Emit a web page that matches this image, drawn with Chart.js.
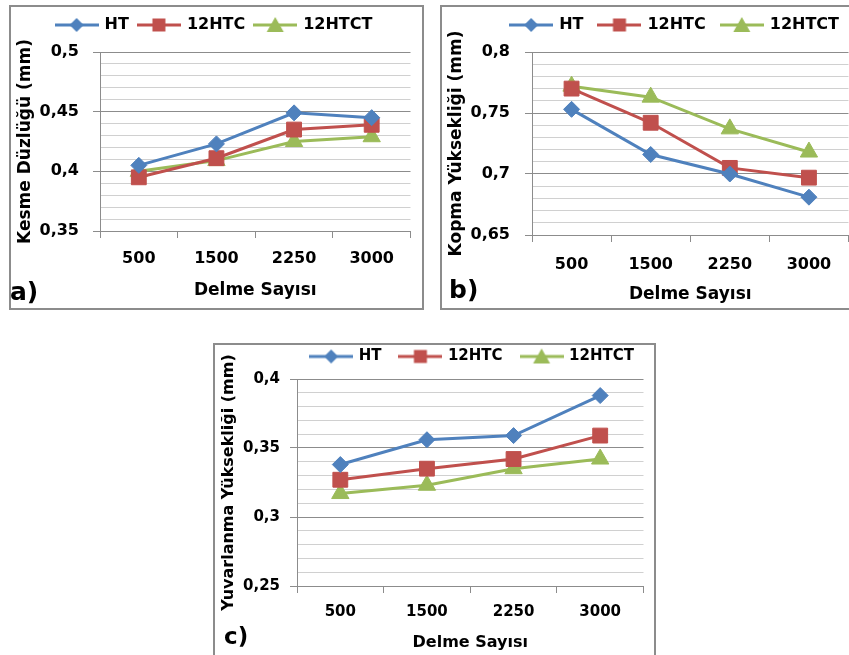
<!DOCTYPE html>
<html>
<head>
<meta charset="utf-8">
<script src="https://cdn.jsdelivr.net/npm/chart.js@4.4.1/dist/chart.umd.min.js"></script>
<style>
  html, body { margin: 0; padding: 0; width: 849px; height: 655px; overflow: hidden; background: #fff; }
  .frame { position: absolute; box-sizing: border-box; border: 2px solid #8c8c8c; }
  canvas { position: absolute; }
  .harf { position: absolute; font-family: 'DejaVu Sans', sans-serif; font-weight: bold; line-height: 1; color: #000; }
</style>
</head>
<body>
<div class="frame" style="left:9px;top:5px;width:415px;height:305px"></div>
<div class="frame" style="left:440px;top:5px;width:440px;height:305px"></div>
<div class="frame" style="left:213px;top:343px;width:443px;height:330px"></div>

<canvas id="grafikA" width="412" height="303" style="left:10px;top:7px"></canvas>
<canvas id="grafikB" width="420" height="308" style="left:440px;top:1px"></canvas>
<canvas id="grafikC" width="442" height="325" style="left:213px;top:330px"></canvas>

<div class="harf" style="left:10px;top:279px;font-size:25px">a)</div>
<div class="harf" style="left:449px;top:277px;font-size:25px">b)</div>
<div class="harf" style="left:224px;top:625px;font-size:23px">c)</div>

<script>
// kategoriler ve seriler
const delmeSayilari = ['500', '1500', '2250', '3000'];
const seriAdlari = ['HT', '12HTC', '12HTCT'];

// a) Kesme Düzlüğü
const kesmeHT = [0.405, 0.423, 0.449, 0.445];
const kesme12HTC = [0.395, 0.411, 0.435, 0.439];
const kesme12HTCT = [0.400, 0.409, 0.425, 0.429];
const kesmeEtiketleri = ['0,35', '0,4', '0,45', '0,5'];

// b) Kopma Yüksekliği
const kopmaHT = [0.753, 0.716, 0.700, 0.681];
const kopma12HTC = [0.770, 0.742, 0.705, 0.697];
const kopma12HTCT = [0.772, 0.763, 0.737, 0.718];
const kopmaEtiketleri = ['0,65', '0,7', '0,75', '0,8'];

// c) Yuvarlanma Yüksekliği
const yuvHT = [0.338, 0.356, 0.359, 0.388];
const yuv12HTC = [0.327, 0.335, 0.342, 0.359];
const yuv12HTCT = [0.317, 0.323, 0.335, 0.342];
const yuvEtiketleri = ['0,25', '0,3', '0,35', '0,4'];

const renkler = ['#4f81bd', '#c0504d', '#9bbb59'];
const noktaStilleri = ['rectRot', 'rect', 'triangle'];
const noktaBoyutlari = [8, 10.5, 10];

Chart.defaults.font.family = "'DejaVu Sans', sans-serif";
Chart.defaults.font.weight = 'bold';
Chart.defaults.color = '#000';

// legend icon: line with marker in the middle
function lejantIkonu(renk, stil, w) {
  const c = document.createElement('canvas');
  c.width = w; c.height = 20;
  const g = c.getContext('2d');
  g.strokeStyle = renk; g.fillStyle = renk; g.lineWidth = 3;
  g.beginPath(); g.moveTo(0, 10); g.lineTo(w, 10); g.stroke();
  const m = w / 2;
  g.beginPath();
  if (stil === 'rectRot') {
    g.moveTo(m, 3); g.lineTo(m + 7, 10); g.lineTo(m, 17); g.lineTo(m - 7, 10);
  } else if (stil === 'rect') {
    g.rect(m - 6.5, 3.5, 13, 13);
  } else {
    g.moveTo(m, 2); g.lineTo(m + 8.5, 17); g.lineTo(m - 8.5, 17);
  }
  g.closePath(); g.fill();
  return c;
}

// extra room under the legend
function lejantBosluk(ek) {
  return {
    id: 'lejantBosluk',
    beforeInit(chart) {
      const fit = chart.legend.fit;
      chart.legend.fit = function () { fit.call(this); this.height += ek; };
    }
  };
}

function grafik(id, seriler, yEtiketleri, yMin, yMax, yBaslik, o) {
  const ikonlar = seriler.map((s, i) => lejantIkonu(renkler[i], noktaStilleri[i], 44));
  return new Chart(document.getElementById(id), {
    type: 'line',
    data: {
      labels: delmeSayilari,
      datasets: seriler.map((s, i) => ({
        label: seriAdlari[i],
        data: s,
        borderColor: renkler[i],
        backgroundColor: renkler[i],
        borderWidth: 3,
        pointStyle: noktaStilleri[i],
        pointRadius: noktaBoyutlari[i],
        pointBorderWidth: 1,
        tension: 0
      }))
    },
    options: {
      responsive: false,
      animation: false,
      devicePixelRatio: 1,
      layout: { padding: { top: 0, left: 0, right: o.sagBosluk, bottom: 0 } },
      plugins: {
        tooltip: { enabled: false },
        legend: {
          position: 'top',
          align: o.hiza,
          labels: {
            usePointStyle: true,
            pointStyleWidth: 40,
            padding: o.lejantAralik,
            color: '#000',
            font: { size: o.lejantFont, weight: 'bold' },
            generateLabels: chart => chart.data.datasets.map((ds, i) => ({
              text: ds.label,
              pointStyle: ikonlar[i],
              fillStyle: ds.borderColor,
              strokeStyle: ds.borderColor,
              lineWidth: 0,
              hidden: false,
              datasetIndex: i
            }))
          }
        }
      },
      scales: {
        x: {
          offset: true,
          grid: { offset: true, drawOnChartArea: false, color: '#8c8c8c', tickLength: 7 },
          border: { color: '#8c8c8c' },
          ticks: { font: { size: o.tikFont }, padding: o.xTikBosluk, maxRotation: 0, color: '#000' },
          title: { display: true, text: 'Delme Sayısı', color: '#000', font: { size: o.baslikFont }, padding: { top: 0, bottom: o.xBaslikBosluk } },
          afterFit(s) { s.height = o.xYukseklik; }
        },
        y: {
          min: yMin,
          max: yMax,
          ticks: {
            stepSize: 0.01,
            autoSkip: false,
            padding: o.yTikBosluk,
            color: '#000',
            font: { size: o.tikFont },
            callback: (v, i) => (i % 5 === 0 ? yEtiketleri[i / 5] : '')
          },
          grid: {
            color: c => (c.index % 5 === 0 ? '#8c8c8c' : '#d0d0d0'),
            tickColor: c => (c.index % 5 === 0 ? '#8c8c8c' : 'rgba(0,0,0,0)'),
            tickLength: 7
          },
          border: { color: '#8c8c8c' },
          title: { display: true, text: yBaslik, color: '#000', font: { size: o.baslikFont }, padding: { top: o.yBaslikBosluk, bottom: 0 } },
          afterFit(s) { s.width = o.yGenislik; }
        }
      }
    },
    plugins: [lejantBosluk(o.lejantEk)]
  });
}

grafik('grafikA', [kesmeHT, kesme12HTC, kesme12HTCT], kesmeEtiketleri, 0.35, 0.5, 'Kesme Düzlüğü (mm)', {
  sagBosluk: 3, hiza: 'center', lejantFont: 16, lejantAralik: 10, lejantEk: 9,
  tikFont: 16, baslikFont: 17, xTikBosluk: 11, xBaslikBosluk: 9, xYukseklik: 79,
  yTikBosluk: 14, yBaslikBosluk: 5, yGenislik: 90
});

grafik('grafikB', [kopmaHT, kopma12HTC, kopma12HTCT], kopmaEtiketleri, 0.65, 0.8, 'Kopma Yüksekliği (mm)', {
  sagBosluk: 5, hiza: 'end', lejantFont: 16, lejantAralik: 16, lejantEk: 9,
  tikFont: 16, baslikFont: 17, xTikBosluk: 13, xBaslikBosluk: 4, xYukseklik: 74,
  yTikBosluk: 15, yBaslikBosluk: 6, yGenislik: 92
});

grafik('grafikC', [yuvHT, yuv12HTC, yuv12HTCT], yuvEtiketleri, 0.25, 0.4, 'Yuvarlanma Yüksekliği (mm)', {
  sagBosluk: 2, hiza: 'end', lejantFont: 15, lejantAralik: 19, lejantEk: 5,
  tikFont: 15, baslikFont: 16, xTikBosluk: 10, xBaslikBosluk: 3, xYukseklik: 69,
  yTikBosluk: 10, yBaslikBosluk: 6, yGenislik: 84
});
</script>
</body>
</html>
